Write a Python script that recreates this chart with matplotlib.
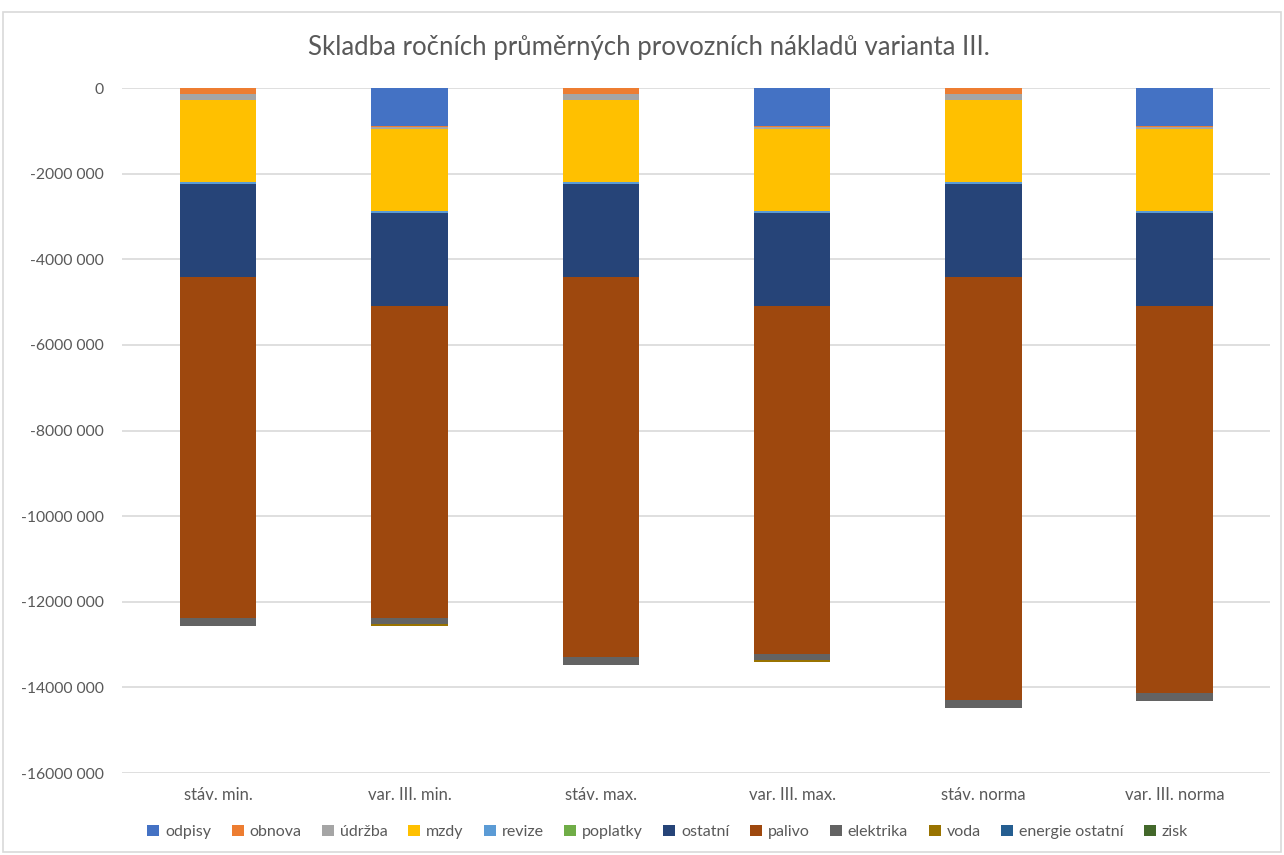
import matplotlib
matplotlib.use("Agg")
import matplotlib.pyplot as plt
import numpy as np
from matplotlib.ticker import FuncFormatter, MultipleLocator
from matplotlib.patches import Rectangle

plt.rcParams['font.family'] = ['Lato', 'DejaVu Sans']

# data (Kč / rok, záporné = náklady)
categories = ["stáv. min.", "var. III. min.", "stáv. max.", "var. III. max.", "stáv. norma", "var. III. norma"]
odpisy = [0, -880000, 0, -880000, 0, -880000]
obnova = [-140000, -20000, -140000, -20000, -140000, -20000]
udrzba = [-140000, -50000, -140000, -50000, -140000, -50000]
mzdy = [-1920000, -1920000, -1920000, -1920000, -1920000, -1920000]
revize = [-40000, -40000, -40000, -40000, -40000, -40000]
poplatky = [0, 0, 0, 0, 0, 0]
ostatni = [-2170000, -2170000, -2170000, -2170000, -2170000, -2170000]
palivo = [-7960000, -7300000, -8875000, -8130000, -9875000, -9040000]
elektrika = [-187000, -140000, -187000, -155000, -187000, -190000]
voda = [0, -35000, 0, -35000, 0, 0]
energie_ostatni = [-15000, -15000, -15000, -15000, -15000, -15000]
zisk = [0, 0, 0, 0, 0, 0]

series = [
    ("odpisy", odpisy, "#4472C4"),
    ("obnova", obnova, "#ED7D31"),
    ("údržba", udrzba, "#A5A5A5"),
    ("mzdy", mzdy, "#FFC000"),
    ("revize", revize, "#5B9BD5"),
    ("poplatky", poplatky, "#70AD47"),
    ("ostatní", ostatni, "#264478"),
    ("palivo", palivo, "#9E480E"),
    ("elektrika", elektrika, "#636363"),
    ("voda", voda, "#997300"),
    ("energie ostatní", energie_ostatni, "#255E91"),
    ("zisk", zisk, "#43682B"),
]

txt = "#595959"
grid = "#D9D9D9"

fig = plt.figure(figsize=(12.84, 8.55), dpi=100)
ax = fig.add_axes([0.0954, 0.0959, 0.894, 0.801])

x = np.arange(len(categories))
bottom = np.zeros(len(categories))
for name, vals, col in series:
    vals = np.array(vals, dtype=float)
    ax.bar(x, vals, 0.4, bottom=bottom, color=col, label=name, zorder=3)
    bottom += vals

ax.set_xlim(-0.5, len(categories) - 0.5)
ax.set_ylim(-16000000, 0)
ax.yaxis.set_major_locator(MultipleLocator(2000000))
ax.yaxis.set_major_formatter(FuncFormatter(lambda v, p: "0" if v == 0 else f"{int(round(v / 1000))} 000"))
ax.grid(axis="y", color=grid, linewidth=1.2, zorder=0)
for s in ax.spines.values():
    s.set_visible(False)
ax.tick_params(axis="both", length=0, colors=txt)
ax.tick_params(axis="y", pad=13.7, labelsize=11.3)
ax.set_xticks(x)
ax.set_xticklabels(categories)
ax.tick_params(axis="x", pad=10, labelsize=12)

fig.text(0.505, 0.945, "Skladba ročních průměrných provozních nákladů varianta III.",
         ha="center", va="center", fontsize=18.5, color=txt)

fig.legend(loc="center", bbox_to_anchor=(0.52, 0.027), ncol=12, frameon=False,
           fontsize=11.5, handlelength=0.75, handleheight=0.75, handletextpad=0.35,
           columnspacing=1.3, labelcolor=txt)

fig.patches.append(Rectangle((0.0025, 0.003), 0.995, 0.983, transform=fig.transFigure,
                             fill=False, edgecolor=grid, linewidth=1.2))

fig.savefig("out.png", dpi=100)
